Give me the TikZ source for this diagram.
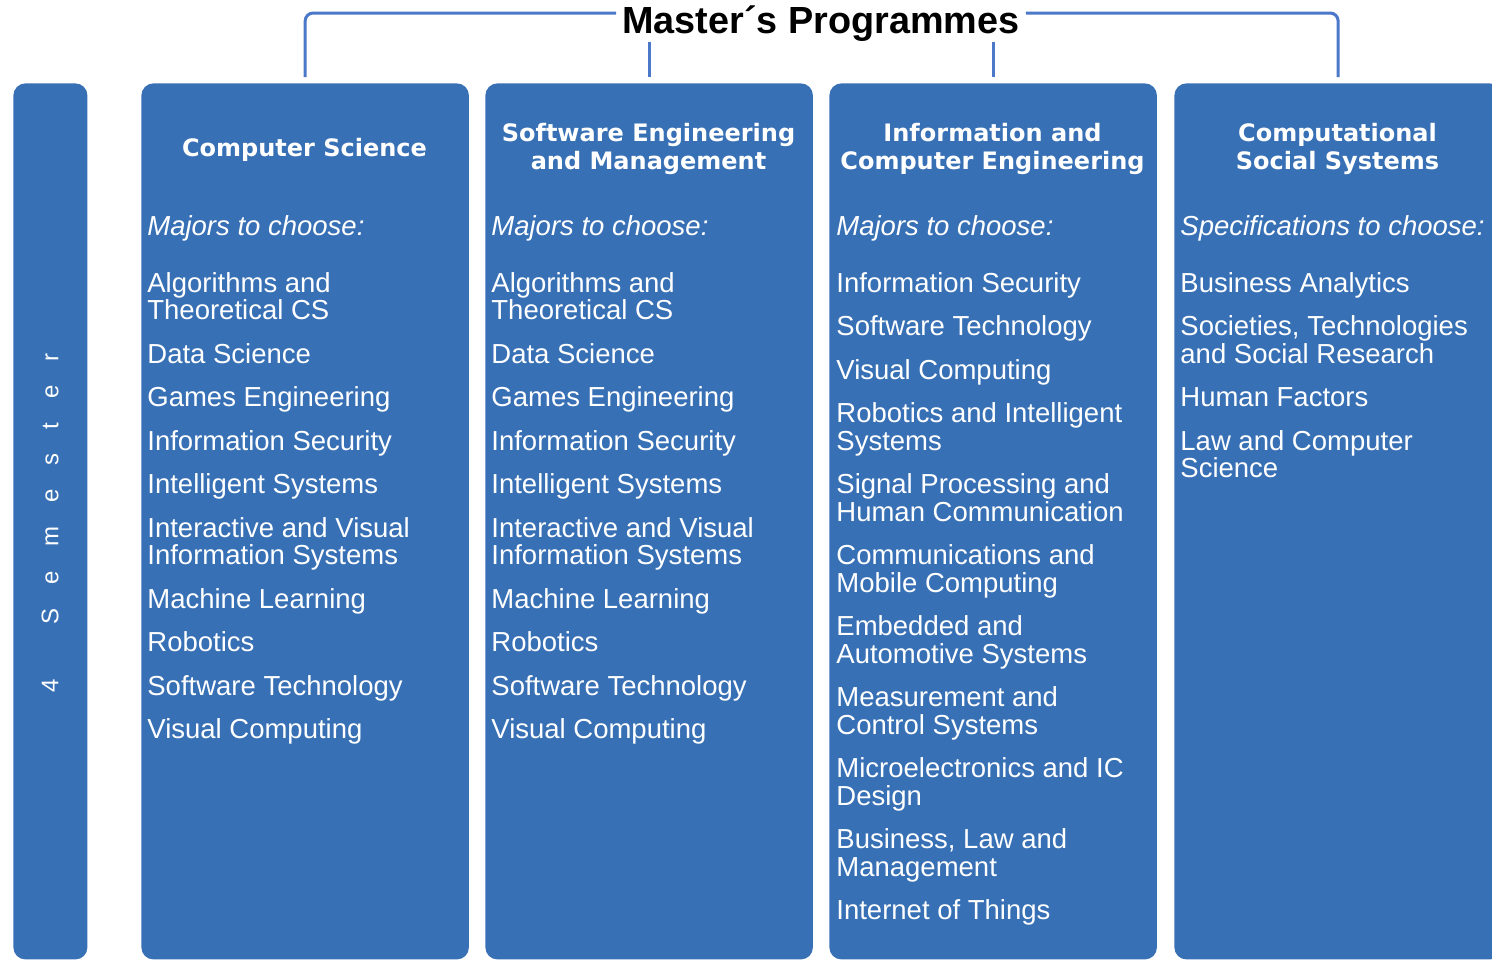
\documentclass[tikz,border=0pt]{standalone}
\usepackage{fontspec}
\setmainfont{Liberation Sans}
\newfontfamily\headfont{DejaVu Sans}
\definecolor{progblue}{RGB}{55,112,181}
\definecolor{braceblue}{RGB}{75,120,200}
\tikzset{
  colbox/.style={fill=progblue, rounded corners=6pt, anchor=north west,
    minimum width=163.75pt, minimum height=438pt, inner sep=0pt},
  head/.style={text=white, font=\headfont\bfseries\fontsize{12}{14}\selectfont, align=center},
  majors/.style={text=white, font=\itshape\fontsize{13.75}{13.75}\selectfont, anchor=west, inner sep=0pt},
  items/.style={text=white, font=\fontsize{13.75}{13.75}\selectfont, align=left, anchor=north west, inner sep=0pt},
  bracket/.style={draw=braceblue, line width=1.5pt}
}

\begin{document}
\begin{tikzpicture}[x=0.5pt, y=-0.5pt]
  \clip (0,0) rectangle (1492,960);

  % boxes
  \node[colbox, minimum width=37pt] (sem) at (13,83) {};
  \node[colbox] (cs) at (141,83) {};
  \node[colbox] (se) at (485,83) {};
  \node[colbox] (ice) at (829,83) {};
  \node[colbox] (css) at (1174,83) {};

  \node[rotate=90, text=white, font=\fontsize{12}{12}\selectfont] (semtxt) at (50,523)
    {4\hspace{2.3em}S\hspace{1em}e\hspace{1em}m\hspace{1em}e\hspace{1em}s\hspace{1em}t\hspace{1em}e\hspace{1em}r};

  % title and bracket
  \node[font=\bfseries\fontsize{18.9}{20}\selectfont, inner xsep=3pt, inner ysep=0pt] (prog) at (821,24) {Master´s Programmes};
  \coordinate (top) at (0,13);
  \draw[bracket, rounded corners=4pt, shorten <=3pt] (cs.north) |- (prog.west |- top);
  \draw[bracket, rounded corners=4pt, shorten <=3pt] (css.north) |- (prog.east |- top);
  \draw[bracket, shorten >=3pt] (prog.south -| se.north) -- (se.north);
  \draw[bracket, shorten >=3pt] (prog.south -| ice.north) -- (ice.north);

  % headers
  \node[head] (cs-head) at (304.5,150) {Computer Science};
  \node[head] (se-head) at (648.5,149) {Software Engineering\\and Management};
  \node[head] (ice-head) at (992.5,149) {Information and\\Computer Engineering};
  \node[head] (css-head) at (1337.5,149) {Computational\\Social Systems};

  \node[majors] (cs-maj) at (147,228) {Majors to choose:};
  \node[majors] (se-maj) at (491,228) {Majors to choose:};
  \node[majors] (ice-maj) at (836,228) {Majors to choose:};
  \node[majors] (css-maj) at (1180,228) {Specifications to choose:};

  % lists
  \node[items] (cs-list) at (147,272) {Algorithms and\\Theoretical CS\\[8pt]Data Science\\[8pt]Games Engineering\\[8pt]Information Security\\[8pt]Intelligent Systems\\[8pt]Interactive and Visual\\Information Systems\\[8pt]Machine Learning\\[8pt]Robotics\\[8pt]Software Technology\\[8pt]Visual Computing};
  \node[items] (se-list) at (491,272) {Algorithms and\\Theoretical CS\\[8pt]Data Science\\[8pt]Games Engineering\\[8pt]Information Security\\[8pt]Intelligent Systems\\[8pt]Interactive and Visual\\Information Systems\\[8pt]Machine Learning\\[8pt]Robotics\\[8pt]Software Technology\\[8pt]Visual Computing};
  \node[items] (ice-list) at (836,272) {Information Security\\[8pt]Software Technology\\[8pt]Visual Computing\\[8pt]Robotics and Intelligent\\Systems\\[8pt]Signal Processing and\\Human Communication\\[8pt]Communications and\\Mobile Computing\\[8pt]Embedded and\\Automotive Systems\\[8pt]Measurement and\\Control Systems\\[8pt]Microelectronics and IC\\Design\\[8pt]Business, Law and\\Management\\[8pt]Internet of Things};
  \node[items] (css-list) at (1180,272) {Business Analytics\\[8pt]Societies, Technologies\\and Social Research\\[8pt]Human Factors\\[8pt]Law and Computer\\Science};
\end{tikzpicture}
\end{document}
